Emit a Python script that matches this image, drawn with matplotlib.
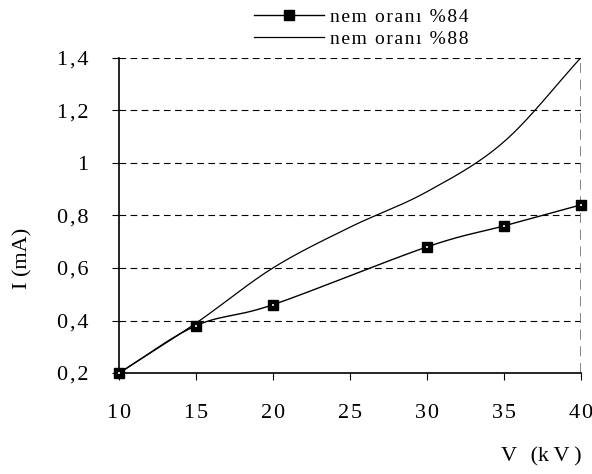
import numpy as np
import matplotlib
matplotlib.use("Agg")
import matplotlib.pyplot as plt

plt.rcParams['font.family'] = ['Liberation Serif', 'DejaVu Serif']

voltage_84 = [10, 15, 20, 30, 35, 40]
current_84 = [0.2, 0.38, 0.46, 0.68, 0.76, 0.84]
voltage_88 = [10, 15, 20, 25, 30, 35, 40]
current_88 = [0.2, 0.39, 0.60, 0.755, 0.89, 1.08, 1.40]
label_84 = "nem oranı %84"
label_88 = "nem oranı %88"
x_ticks = [10, 15, 20, 25, 30, 35, 40]
y_ticks = [0.2, 0.4, 0.6, 0.8, 1.0, 1.2, 1.4]
y_ticklabels = ["0,2", "0,4", "0,6", "0,8", "1", "1,2", "1,4"]
x_label = "V (kV)"
y_label = "I (mA)"


def spaced(s, sep="\u200a"):
    return sep.join(list(s))


def smooth(xs, ys, n=40):
    """Catmull-Rom style smoothing through the given points."""
    xs = np.asarray(xs, float)
    ys = np.asarray(ys, float)
    px = np.concatenate([[2 * xs[0] - xs[1]], xs, [2 * xs[-1] - xs[-2]]])
    py = np.concatenate([[2 * ys[0] - ys[1]], ys, [2 * ys[-1] - ys[-2]]])
    outx, outy = [], []
    t = np.linspace(0, 1, n)
    for i in range(1, len(px) - 2):
        p0x, p1x, p2x, p3x = px[i - 1:i + 3]
        p0y, p1y, p2y, p3y = py[i - 1:i + 3]
        c1x = p1x + (p2x - p0x) / 6
        c1y = p1y + (p2y - p0y) / 6
        c2x = p2x - (p3x - p1x) / 6
        c2y = p2y - (p3y - p1y) / 6
        bx = (1 - t) ** 3 * p1x + 3 * (1 - t) ** 2 * t * c1x + 3 * (1 - t) * t ** 2 * c2x + t ** 3 * p2x
        by = (1 - t) ** 3 * p1y + 3 * (1 - t) ** 2 * t * c1y + 3 * (1 - t) * t ** 2 * c2y + t ** 3 * p2y
        outx.extend(bx)
        outy.extend(by)
    return np.array(outx), np.array(outy)


fig = plt.figure(figsize=(5.92, 4.74), dpi=100)
ax = fig.add_axes([0.201, 0.213, 0.780, 0.665])

sx, sy = smooth(voltage_84, current_84)
ax.plot(sx, sy, color='black', lw=1.0, zorder=3)
ax.plot(voltage_84, current_84, linestyle='none', marker='s', markersize=7,
        markerfacecolor='black', markeredgecolor='black', zorder=4, clip_on=False)
ax.plot(voltage_84, current_84, linestyle='none', marker='s', markersize=2,
        markerfacecolor='#d0d0d0', markeredgewidth=0, zorder=5, clip_on=False)
sx2, sy2 = smooth(voltage_88, current_88)
ax.plot(sx2, sy2, color='black', lw=0.9, zorder=3)

ax.set_xlim(10, 40)
ax.set_ylim(0.2, 1.4)
ax.set_xticks(x_ticks)
ax.set_xticklabels([spaced(str(v)) for v in x_ticks])
ax.set_yticks(y_ticks)
ax.set_yticklabels([spaced(s) for s in y_ticklabels])
ax.tick_params(direction='out', length=5, width=0.8, labelsize=16, color='black')
ax.xaxis.set_tick_params(pad=17)
ax.yaxis.set_tick_params(pad=17)

for yv in y_ticks[1:]:
    ax.axhline(yv, color='black', lw=0.8, ls=(0, (6, 4)), zorder=1)
ax.axvline(40, color='#707070', lw=1.2, ls=(0, (6, 4)), zorder=1)

ax.spines['top'].set_visible(False)
ax.spines['right'].set_visible(False)
ax.spines['left'].set_linewidth(1.2)
ax.spines['bottom'].set_linewidth(1.2)

fig.text(0.038, 0.455, y_label, rotation=90, ha='center', va='center', fontsize=16)
fig.text(0.982, 0.036, "V\u2009\u2009\u2009(k\u2009V\u2009)", ha='right', va='center', fontsize=16)

h1, = ax.plot([], [], color='black', lw=1.0, marker='s', markersize=7,
              markerfacecolor='black')
h2, = ax.plot([], [], color='black', lw=0.9)
fig.legend([h1, h2], [spaced(label_84), spaced(label_88)], loc='upper left',
           bbox_to_anchor=(0.40, 1.02), frameon=False, fontsize=14,
           handlelength=3.6, handletextpad=0.3, labelspacing=0.25)

fig.savefig("out.png", dpi=100)
